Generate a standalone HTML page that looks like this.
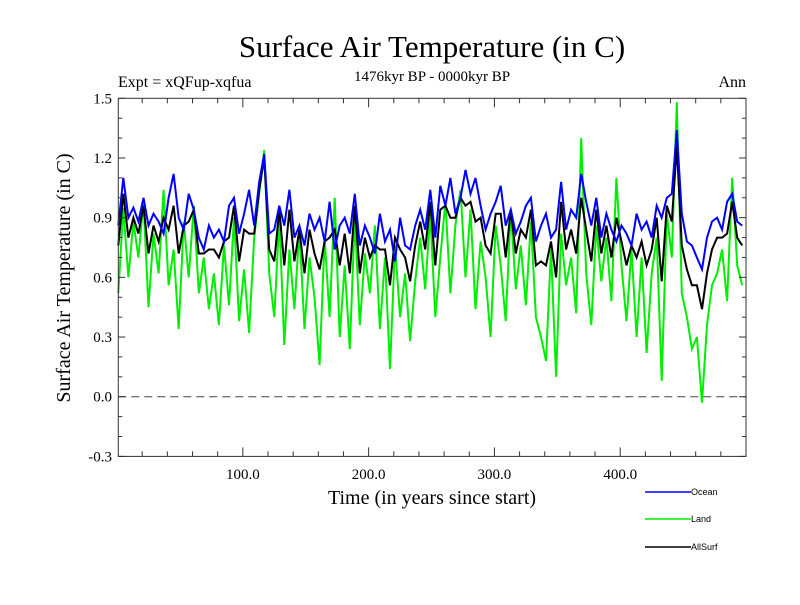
<!DOCTYPE html>
<html><head><meta charset="utf-8"><style>
body{margin:0;background:#fff}
svg text{font-family:"Liberation Serif",serif}
</style></head><body>
<svg id="c" width="800" height="600" xmlns="http://www.w3.org/2000/svg">
<rect width="800" height="600" fill="#fff"/>
<text x="432" y="57" font-size="31" text-anchor="middle">Surface Air Temperature (in C)</text>
<text x="118" y="87" font-size="16">Expt = xQFup-xqfua</text>
<text x="432" y="81" font-size="15" text-anchor="middle">1476kyr BP - 0000kyr BP</text>
<text x="746" y="87" font-size="16" text-anchor="end">Ann</text>
<text x="432" y="504" font-size="20" text-anchor="middle">Time (in years since start)</text>
<text transform="translate(70,278) rotate(-90)" font-size="20" text-anchor="middle">Surface Air Temperature (in C)</text>
<g id="marks"></g>
<g id="axes"></g>
<g font-family="Liberation Sans,sans-serif">
<line x1="645" y1="492" x2="691" y2="492" stroke="#0000ff" stroke-width="1.5"/>
<text x="691" y="495" font-size="9" style="font-family:'Liberation Sans',sans-serif">Ocean</text>
<line x1="645" y1="519" x2="691" y2="519" stroke="#00ee00" stroke-width="1.5"/>
<text x="691" y="522" font-size="9" style="font-family:'Liberation Sans',sans-serif">Land</text>
<line x1="645" y1="547" x2="691" y2="547" stroke="#000" stroke-width="1.5"/>
<text x="691" y="550" font-size="9" style="font-family:'Liberation Sans',sans-serif">AllSurf</text>
</g>
</svg>
<script>
const years0 = 1, yearStep = 4;
const ocean = [0.86,1.10,0.90,0.95,0.88,1.00,0.86,0.92,0.88,0.82,
1.00,1.12,0.90,0.84,1.02,0.94,0.80,0.74,0.86,0.80,
0.84,0.78,0.96,1.00,0.82,0.92,1.04,0.86,1.08,1.22,
0.82,0.84,0.96,0.86,1.04,0.80,0.86,0.76,0.92,0.84,
0.90,0.78,0.98,0.74,0.86,0.90,0.82,1.02,0.76,0.86,
0.80,0.72,0.92,0.78,0.84,0.68,0.90,0.76,0.74,0.86,
0.94,0.84,1.04,0.80,1.06,0.96,1.10,0.92,1.00,1.14,
1.02,1.10,0.96,0.84,0.92,0.98,1.06,0.86,0.94,0.82,
0.88,0.96,1.00,0.78,0.86,0.92,0.80,0.84,1.08,0.84,
0.94,0.90,1.12,0.98,0.86,1.00,0.80,0.92,0.84,0.78,
0.86,0.82,0.76,0.92,0.84,0.88,0.80,0.96,0.90,1.00,
1.02,1.34,0.92,0.78,0.76,0.70,0.64,0.80,0.88,0.90,
0.84,0.98,1.02,0.88,0.86];
const land = [0.52,0.95,0.60,0.88,0.70,0.98,0.45,0.82,0.62,1.04,
0.56,0.74,0.34,0.88,0.60,0.96,0.52,0.70,0.44,0.62,
0.36,0.76,0.46,0.90,0.38,0.64,0.32,0.80,1.02,1.24,
0.62,0.40,0.90,0.26,0.74,0.44,0.84,0.34,0.70,0.50,
0.16,0.80,0.40,1.00,0.30,0.66,0.24,0.90,0.36,0.72,
0.52,0.86,0.34,0.70,0.14,0.76,0.40,0.62,0.28,0.58,
0.80,0.54,0.92,0.40,0.70,0.98,0.52,0.86,1.04,0.60,
0.94,0.44,0.78,0.60,0.30,0.86,0.66,0.38,0.94,0.54,
0.76,0.46,0.88,0.40,0.30,0.18,0.74,0.10,0.82,0.56,
0.70,0.42,1.30,0.62,0.36,0.86,0.58,0.80,0.48,1.10,
0.66,0.38,0.74,0.30,0.70,0.22,0.62,0.80,0.08,0.92,
0.70,1.48,0.52,0.40,0.24,0.30,-0.03,0.36,0.56,0.62,
0.74,0.48,1.10,0.66,0.56];
const allsurf = [0.76,1.02,0.80,0.90,0.82,0.96,0.72,0.86,0.78,0.90,
0.84,0.96,0.72,0.86,0.88,0.94,0.72,0.72,0.74,0.74,
0.70,0.78,0.80,0.96,0.68,0.84,0.82,0.82,1.04,1.20,
0.74,0.68,0.94,0.66,0.94,0.68,0.84,0.62,0.84,0.72,
0.64,0.78,0.80,0.84,0.66,0.82,0.62,0.96,0.62,0.80,
0.70,0.76,0.74,0.74,0.56,0.80,0.74,0.70,0.58,0.76,
0.88,0.74,0.98,0.66,0.94,0.96,0.90,0.90,1.00,0.96,
0.98,0.88,0.90,0.76,0.72,0.92,0.92,0.70,0.94,0.72,
0.84,0.80,0.94,0.66,0.68,0.66,0.78,0.60,0.98,0.74,
0.84,0.72,1.00,0.84,0.68,0.94,0.72,0.86,0.70,0.90,
0.78,0.66,0.76,0.70,0.78,0.66,0.74,0.90,0.58,0.96,
0.88,1.26,0.76,0.64,0.56,0.56,0.44,0.62,0.74,0.80,
0.80,0.82,0.98,0.80,0.76];
const yTicks = [-0.3,0.0,0.3,0.6,0.9,1.2,1.5];
const yTickLabels = ["-0.3","0.0","0.3","0.6","0.9","1.2","1.5"];
const xTicks = [100,200,300,400];
const xTickLabels = ["100.0","200.0","300.0","400.0"];

const L=118.3,R=746,T=98.3,B=456.4, X0=1, X1=500, Y0=-0.3, Y1=1.5;
const xs=v=>L+(v-X0)/(X1-X0)*(R-L);
const ys=v=>B-(v-Y0)/(Y1-Y0)*(B-T);
const NS="http://www.w3.org/2000/svg";
const marks=document.getElementById('marks'), axes=document.getElementById('axes');
function mk(tag,parent){const e=document.createElementNS(NS,tag);parent.appendChild(e);return e;}

const zl=mk('line',marks);


zl.setAttribute('x1',L);zl.setAttribute('x2',R);zl.setAttribute('y1',ys(0));zl.setAttribute('y2',ys(0));
zl.setAttribute('stroke','#444');zl.setAttribute('stroke-dasharray','8,5');

function series(arr,color,name){
  const p=mk('polyline',marks);
  
  
  p.setAttribute('points',arr.map((v,i)=>xs(years0+i*yearStep).toFixed(1)+','+ys(v).toFixed(1)).join(' '));
  p.setAttribute('fill','none');p.setAttribute('stroke',color);p.setAttribute('stroke-width','2');
}
series(land,'#00ee00','land-series');
series(allsurf,'#000000','allsurf-series');
series(ocean,'#0000ff','ocean-series');

const fr=mk('rect',axes);


fr.setAttribute('x',L);fr.setAttribute('y',T);fr.setAttribute('width',R-L);fr.setAttribute('height',B-T);
fr.setAttribute('fill','none');fr.setAttribute('stroke','#333');

function tick(x1,y1,x2,y2,name){const t=mk('line',axes);


t.setAttribute('x1',x1);t.setAttribute('y1',y1);t.setAttribute('x2',x2);t.setAttribute('y2',y2);t.setAttribute('stroke','#333');}
for(let v=-0.3;v<=1.5001;v+=0.1){const y=ys(v);const maj=Math.abs(Math.round(v*10)%3)===0;const l=maj?7:4;
tick(L,y,L+l,y,'y-tick');tick(R,y,R-l,y,'y-tick');}
for(let v=20;v<500;v+=20){const x=xs(v);const l=(v%100===0)?9:5;tick(x,B,x,B-l,'x-tick');tick(x,T,x,T+l,'x-tick');}
yTicks.forEach((v,i)=>{const t=mk('text',axes);


t.setAttribute('x',112);t.setAttribute('y',ys(v)+5);t.setAttribute('font-size','15');t.setAttribute('text-anchor','end');t.textContent=yTickLabels[i];});
xTicks.forEach((v,i)=>{const t=mk('text',axes);


t.setAttribute('x',xs(v));t.setAttribute('y',479);t.setAttribute('font-size','15');t.setAttribute('text-anchor','middle');t.textContent=xTickLabels[i];});
</script>
</body></html>
